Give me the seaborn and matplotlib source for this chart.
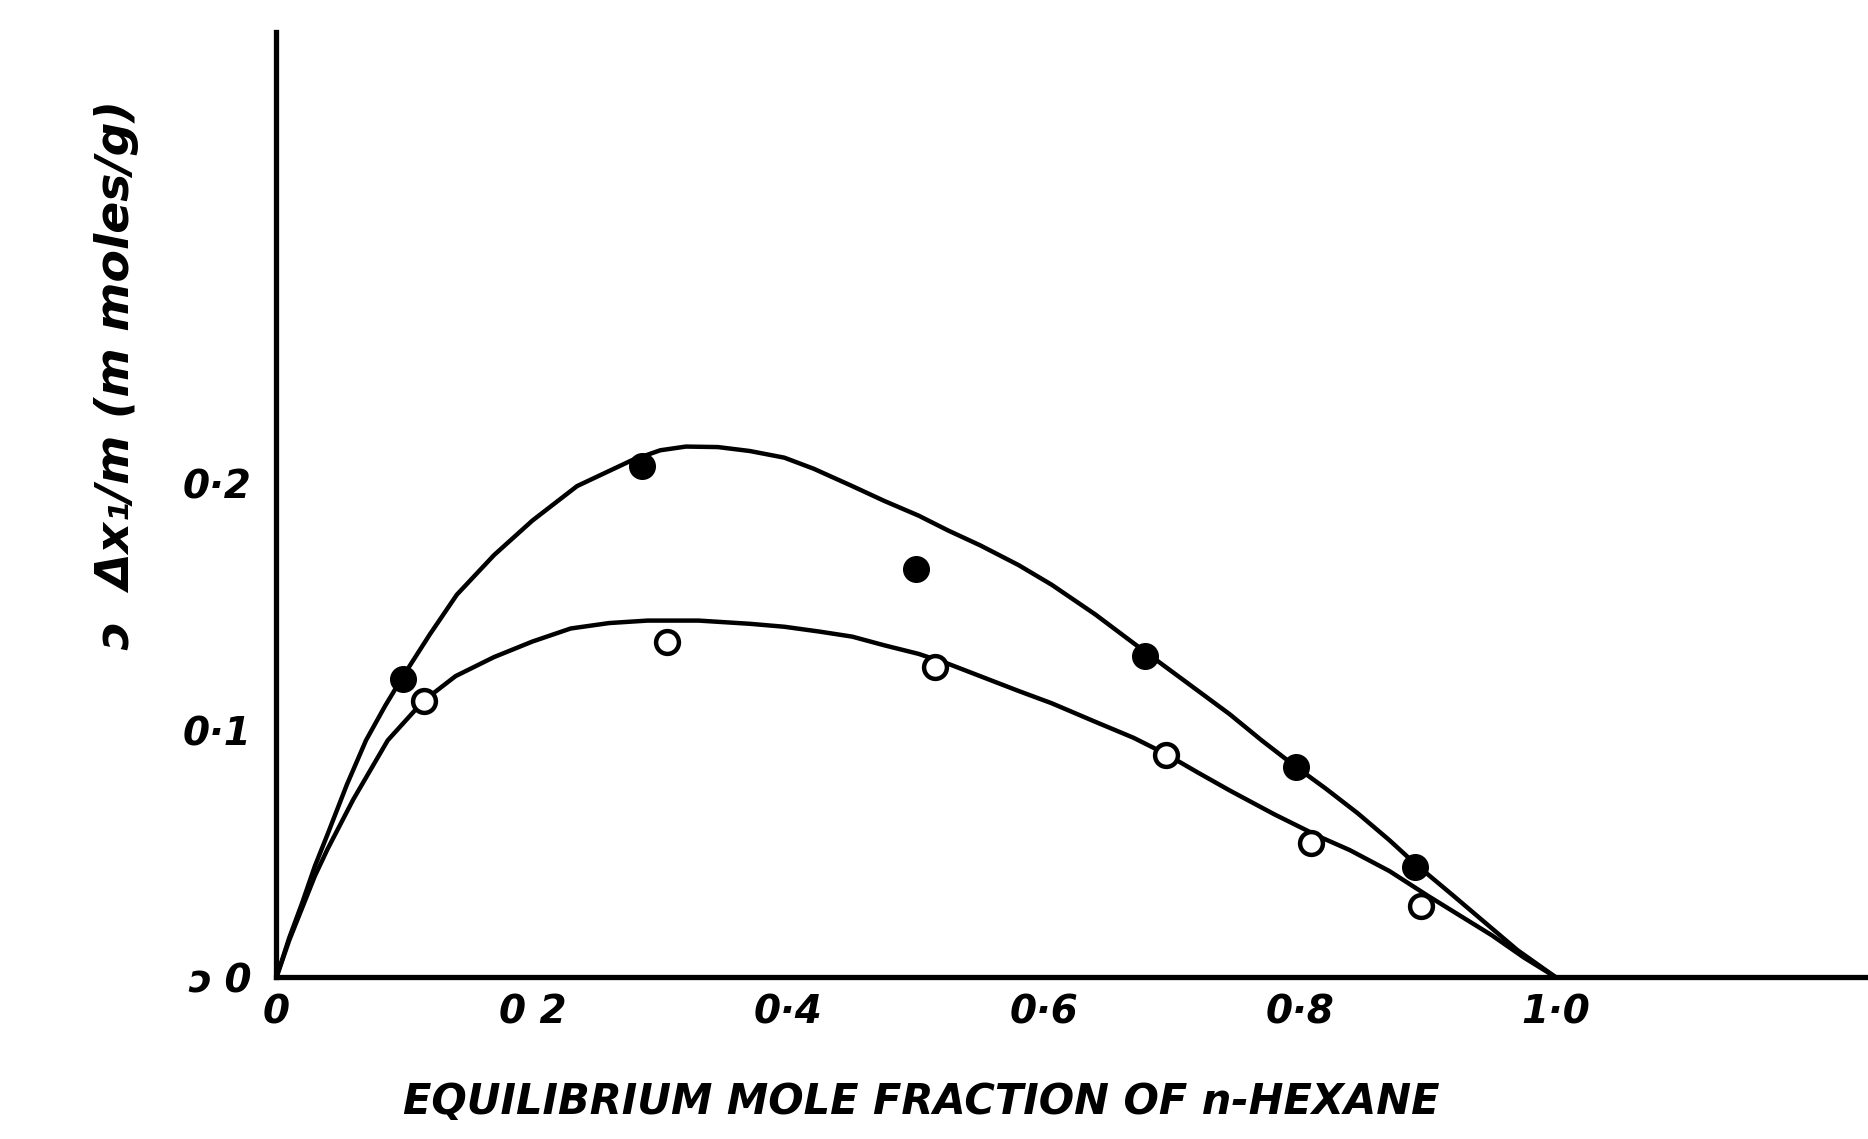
import matplotlib
matplotlib.use("Agg")
import matplotlib.pyplot as plt
import seaborn as sns
import pandas as pd

# ---- data ----
filled_x = [0.099, 0.286, 0.500, 0.679, 0.797, 0.890]
filled_y = [0.121, 0.207, 0.1655, 0.130, 0.0852, 0.0445]

open_x = [0.115, 0.305, 0.515, 0.695, 0.809, 0.895]
open_y = [0.112, 0.136, 0.1256, 0.0899, 0.0542, 0.029]

upper_x = [0, 0.01, 0.02, 0.03, 0.04, 0.055, 0.07, 0.085, 0.099, 0.12, 0.141, 0.17,
           0.20, 0.235, 0.278, 0.30, 0.32, 0.345, 0.37, 0.397, 0.42, 0.45, 0.475,
           0.502, 0.525, 0.55, 0.58, 0.606, 0.64, 0.676, 0.71, 0.745, 0.77, 0.797,
           0.82, 0.845, 0.87, 0.89, 0.92, 0.945, 0.97, 1.0]
upper_y = [0, 0.016, 0.030, 0.045, 0.058, 0.078, 0.096, 0.110, 0.122, 0.139, 0.155, 0.171,
           0.185, 0.199, 0.2095, 0.2135, 0.2150, 0.2148, 0.2132, 0.2105, 0.206, 0.199, 0.193,
           0.187, 0.181, 0.175, 0.167, 0.159, 0.147, 0.133, 0.120, 0.1066, 0.096, 0.0852,
           0.0765, 0.0665, 0.0555, 0.046, 0.033, 0.022, 0.011, 0]

lower_x = [0, 0.01, 0.02, 0.03, 0.04, 0.06, 0.087, 0.115, 0.14, 0.17, 0.20, 0.23, 0.26,
           0.29, 0.33, 0.37, 0.397, 0.425, 0.45, 0.475, 0.502, 0.525, 0.55, 0.58, 0.606,
           0.64, 0.67, 0.695, 0.72, 0.745, 0.78, 0.815, 0.839, 0.87, 0.90, 0.925, 0.95,
           0.975, 1.0]
lower_y = [0, 0.015, 0.028, 0.041, 0.052, 0.072, 0.096, 0.112, 0.122, 0.1297, 0.136,
           0.1413, 0.1435, 0.1445, 0.1445, 0.1432, 0.142, 0.140, 0.138, 0.1345, 0.131,
           0.127, 0.122, 0.116, 0.111, 0.1035, 0.097, 0.0905, 0.083, 0.0757, 0.066,
           0.057, 0.0515, 0.043, 0.033, 0.025, 0.017, 0.008, 0]

xtick_vals = [0, 0.2, 0.4, 0.6, 0.8, 1.0]
xtick_labels = ["0", "0 2", "0·4", "0·6", "0·8", "1·0"]
ytick_vals = [0, 0.1, 0.2]
ytick_labels = ["ɔ 0", "0·1", "0·2"]

xlabel_text = "EQUILIBRIUM MOLE FRACTION OF n-HEXANE"
ylabel_text = "ɔ  Δx₁/m (m moles/g)"

sns.set_theme(style="white")
plt.rcParams['font.family'] = ['DejaVu Sans']

fig = plt.figure(figsize=(18.68, 11.39), dpi=100)
ax = fig.add_axes([0.148, 0.142, 0.852, 0.830])

up = pd.DataFrame({"x": upper_x, "y": upper_y})
lo = pd.DataFrame({"x": lower_x, "y": lower_y})
sns.lineplot(data=up, x="x", y="y", sort=False, estimator=None, color="black",
             linewidth=3.2, ax=ax)
sns.lineplot(data=lo, x="x", y="y", sort=False, estimator=None, color="black",
             linewidth=3.2, ax=ax)

fd = pd.DataFrame({"x": filled_x, "y": filled_y})
od = pd.DataFrame({"x": open_x, "y": open_y})
sns.scatterplot(data=fd, x="x", y="y", s=340, color="black", edgecolor="black",
                linewidth=1, ax=ax, zorder=5)
sns.scatterplot(data=od, x="x", y="y", s=270, facecolor="white", edgecolor="black",
                linewidth=3.2, ax=ax, zorder=5)

ax.set_xlim(0, 1.244)
ax.set_ylim(0, 0.383)
for side in ["top", "right"]:
    ax.spines[side].set_visible(False)
for side in ["left", "bottom"]:
    ax.spines[side].set_linewidth(3.8)
    ax.spines[side].set_color("black")

ax.set_xticks(xtick_vals)
ax.set_xticklabels(xtick_labels)
ax.set_yticks(ytick_vals)
ax.set_yticklabels(ytick_labels)
ax.tick_params(axis="both", direction="in", length=14, width=3, color="black",
               labelsize=28, labelcolor="black")
ax.tick_params(axis="x", pad=12)
ax.tick_params(axis="y", pad=18)
for lab in ax.get_xticklabels() + ax.get_yticklabels():
    lab.set_fontstyle("oblique")
    lab.set_fontweight("bold")
ax.set_xlabel("")
ax.set_ylabel("")

fig.text(0.493, 0.0325, xlabel_text, ha="center", va="center", fontsize=30,
         fontweight="bold", fontstyle="oblique", color="black")
fig.text(0.0626, 0.671, ylabel_text, ha="center", va="center", rotation=90,
         fontsize=34, fontweight="bold", fontstyle="oblique", color="black")

fig.savefig("out.png", dpi=100, facecolor="white")
